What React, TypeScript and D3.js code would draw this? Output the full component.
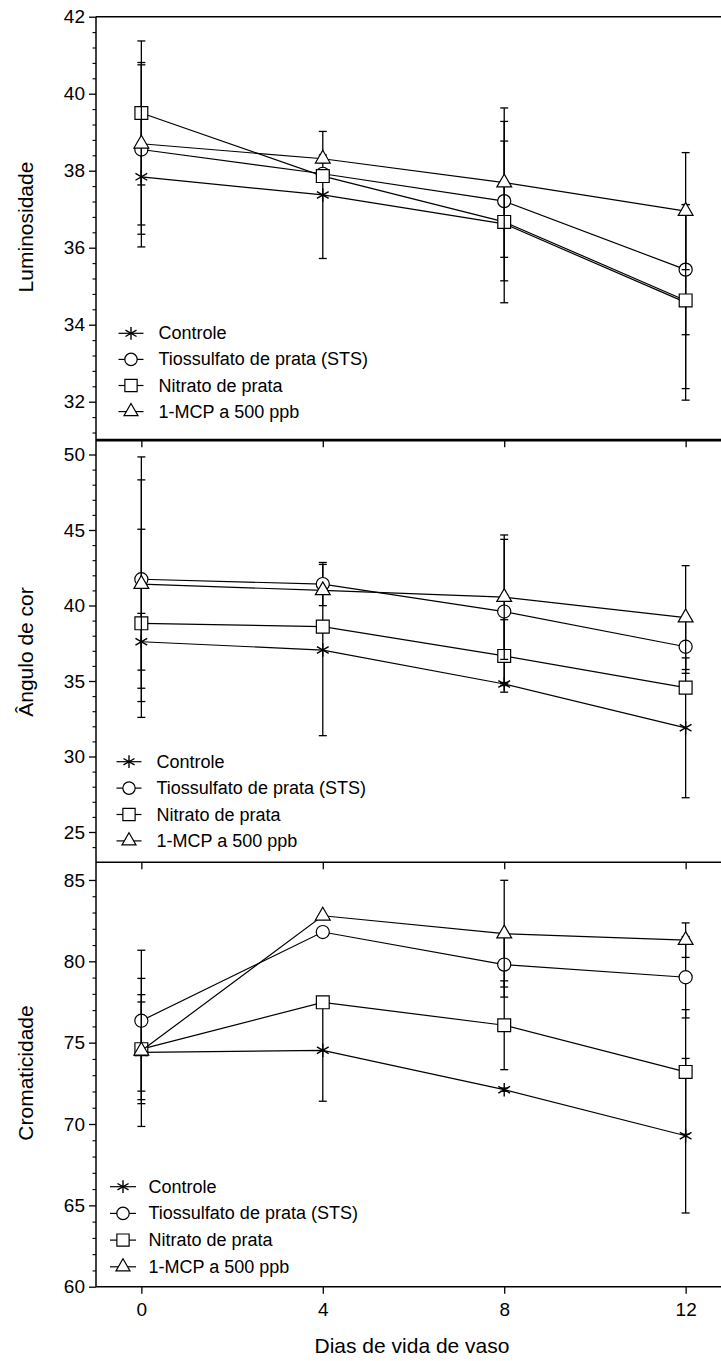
import React, { useEffect, useRef } from "react";
import * as d3 from "d3";

// dias de vida de vaso
const days = [0, 4, 8, 12];
const seriesNames = [
  "Controle",
  "Tiossulfato de prata (STS)",
  "Nitrato de prata",
  "1-MCP a 500 ppb",
];

// Luminosidade (one row per series, one value per day)
const lumMeans = [
  [37.84, 37.37, 36.62, 34.58],
  [38.55, 37.92, 37.21, 35.43],
  [39.5, 37.86, 36.67, 34.63],
  [38.7, 38.31, 37.69, 36.95],
];
const lumErrors = [
  [1.82, 1.65, 0.1, 2.54],
  [2.2, 0.1, 2.07, 1.69],
  [1.87, 0.1, 2.1, 2.29],
  [2.11, 0.1, 1.94, 1.52],
];
const lumTicks = [32, 34, 36, 38, 40, 42];

// Ângulo de cor
const angMeans = [
  [37.6, 37.05, 34.8, 31.9],
  [41.74, 41.42, 39.6, 37.27],
  [38.82, 38.6, 36.66, 34.56],
  [41.42, 41.0, 40.55, 39.2],
];
const angErrors = [
  [1.88, 5.67, 0.1, 4.63],
  [8.1, 1.43, 4.78, 1.76],
  [6.23, 0.1, 2.4, 0.1],
  [6.9, 0.1, 4.12, 3.44],
];
const angTicks = [25, 30, 35, 40, 45, 50];

// Cromaticidade
const croMeans = [
  [74.4, 74.53, 72.11, 69.28],
  [76.35, 81.8, 79.8, 79.02],
  [74.6, 77.48, 76.07, 73.2],
  [74.5, 82.8, 81.7, 81.3],
];
const croErrors = [
  [4.55, 3.13, 0.1, 4.75],
  [4.33, 0.1, 2.0, 2.5],
  [3.35, 0.1, 2.73, 3.83],
  [3.0, 0.1, 3.28, 1.06],
];
const croTicks = [60, 65, 70, 75, 80, 85];

const FONT = "'Liberation Sans', Arial, Helvetica, sans-serif";

const App = () => {
  const svgRef = useRef<SVGSVGElement>(null);

  useEffect(() => {
    const svg = d3.select(svgRef.current);
    svg.selectAll("*").remove();

    const x = d3.scaleLinear().domain([-1, 13]).range([96, 731]);

    const panels = [
      {
        title: "Luminosidade",
        means: lumMeans,
        errors: lumErrors,
        ticks: lumTicks,
        minor: d3.range(31.2, 42, 0.4),
        domain: [31, 42],
        range: [440.2, 16.7],
        titleY: 227,
        legend: { x1: 118.5, x2: 143.5, tx: 158.5, y0: 333.3, dy: 26.1 },
      },
      {
        title: "Ângulo de cor",
        means: angMeans,
        errors: angErrors,
        ticks: angTicks,
        minor: d3.range(24, 51, 1),
        domain: [23, 51],
        range: [862.2, 439.4],
        titleY: 652,
        legend: { x1: 116.5, x2: 141.5, tx: 156.5, y0: 761.7, dy: 26.4 },
      },
      {
        title: "Cromaticidade",
        means: croMeans,
        errors: croErrors,
        ticks: croTicks,
        minor: d3.range(61, 86, 1),
        domain: [60, 86],
        range: [1286.7, 863.7],
        titleY: 1073,
        legend: { x1: 110, x2: 136, tx: 148.5, y0: 1186.7, dy: 26.7 },
      },
    ];

    const shapes = [
      d3.symbolAsterisk,
      d3.symbolCircle,
      d3.symbolSquare,
      d3.symbolTriangle,
    ];
    const sizes = [130, 135, 165, 95];
    const legendSizes = [115, 120, 150, 85];

    const drawMarker = (g, i, cx, cy, size) => {
      const isStar = i === 0;
      g.append("path")
        .attr("d", d3.symbol().type(shapes[i]).size(size)())
        .attr("transform", `translate(${cx},${cy})`)
        .attr("fill", isStar ? "none" : "#fff")
        .attr("stroke", "#000")
        .attr("stroke-width", isStar ? 1.4 : 1.2);
    };

    // top frame line
    svg
      .append("line")
      .attr("x1", 96)
      .attr("x2", 721)
      .attr("y1", 16.7)
      .attr("y2", 16.7)
      .attr("stroke", "#000")
      .attr("stroke-width", 1.5);

    panels.forEach((p, pi) => {
      const y = d3.scaleLinear().domain(p.domain).range(p.range);
      const g = svg.append("g");
      const bottom = p.range[0];

      // y axis, major + minor ticks
      const yAxis = g
        .append("g")
        .attr("transform", "translate(96,0)")
        .call(d3.axisLeft(y).tickValues(p.ticks).tickSize(7).tickPadding(4));
      yAxis.select(".domain").remove();
      yAxis
        .selectAll("text")
        .attr("font-family", FONT)
        .attr("font-size", 19)
        .attr("fill", "#000");
      yAxis.selectAll("line").attr("stroke-width", 1.3);

      const yMinor = g
        .append("g")
        .attr("transform", "translate(96,0)")
        .call(
          d3
            .axisLeft(y)
            .tickValues(p.minor.filter((v) => !p.ticks.includes(Math.round(v * 10) / 10)))
            .tickSize(3.5)
            .tickFormat(() => "")
        );
      yMinor.select(".domain").remove();
      yMinor.selectAll("line").attr("stroke-width", 1.1);

      // x axis under each panel (ticks point downwards)
      const isLast = pi === panels.length - 1;
      const xAxis = g
        .append("g")
        .attr("transform", `translate(0,${bottom})`)
        .call(
          d3
            .axisBottom(x)
            .tickValues(days)
            .tickSize(7)
            .tickPadding(9)
            .tickFormat(isLast ? (d) => String(d) : () => "")
        );
      xAxis.select(".domain").remove();
      xAxis.selectAll("line").attr("stroke-width", 1.3);
      xAxis
        .selectAll("text")
        .attr("font-family", FONT)
        .attr("font-size", 19)
        .attr("fill", "#000");

      g.append("line")
        .attr("x1", 96)
        .attr("x2", 721)
        .attr("y1", bottom)
        .attr("y2", bottom)
        .attr("stroke", "#000")
        .attr("stroke-width", pi === 0 ? 2.8 : 1.5);

      // series
      p.means.forEach((vals, si) => {
        const sg = g.append("g");
        const pts = vals.map((v, k) => [x(days[k]), y(v)]);
        sg.append("path")
          .attr("d", d3.line()(pts))
          .attr("fill", "none")
          .attr("stroke", "#000")
          .attr("stroke-width", 1.2);

        vals.forEach((v, k) => {
          const e = p.errors[si][k];
          const cx = x(days[k]);
          const yt = y(v + e);
          const yb = y(v - e);
          sg.append("line")
            .attr("x1", cx)
            .attr("x2", cx)
            .attr("y1", yt)
            .attr("y2", yb)
            .attr("stroke", "#000")
            .attr("stroke-width", 1.3);
          [yt, yb].forEach((yy) =>
            sg
              .append("line")
              .attr("x1", cx - 4)
              .attr("x2", cx + 4)
              .attr("y1", yy)
              .attr("y2", yy)
              .attr("stroke", "#000")
              .attr("stroke-width", 1.3)
          );
        });

        pts.forEach(([cx, cy]) => drawMarker(sg, si, cx, cy, sizes[si]));
      });

      // legend
      const L = p.legend;
      seriesNames.forEach((name, si) => {
        const ly = L.y0 + si * L.dy;
        g.append("line")
          .attr("x1", L.x1)
          .attr("x2", L.x2)
          .attr("y1", ly)
          .attr("y2", ly)
          .attr("stroke", "#000")
          .attr("stroke-width", 1.2);
        drawMarker(g, si, (L.x1 + L.x2) / 2, ly, legendSizes[si]);
        g.append("text")
          .attr("x", L.tx)
          .attr("y", ly)
          .attr("dominant-baseline", "central")
          .attr("font-family", FONT)
          .attr("font-size", 18)
          .text(name);
      });

      // y title
      g.append("text")
        .attr("transform", `translate(33,${p.titleY}) rotate(-90)`)
        .attr("text-anchor", "middle")
        .attr("font-family", FONT)
        .attr("font-size", 21)
        .text(p.title);
    });

    // left axis line
    svg
      .append("line")
      .attr("x1", 96)
      .attr("x2", 96)
      .attr("y1", 16.7)
      .attr("y2", 1286.7)
      .attr("stroke", "#000")
      .attr("stroke-width", 1.5);

    svg
      .append("text")
      .attr("x", 412)
      .attr("y", 1353)
      .attr("text-anchor", "middle")
      .attr("font-family", FONT)
      .attr("font-size", 21)
      .text("Dias de vida de vaso");
  }, []);

  return (
    <svg
      ref={svgRef}
      width={721}
      height={1361}
      style={{ position: "absolute", left: 0, top: 0, background: "#fff" }}
    />
  );
};

export default App;
